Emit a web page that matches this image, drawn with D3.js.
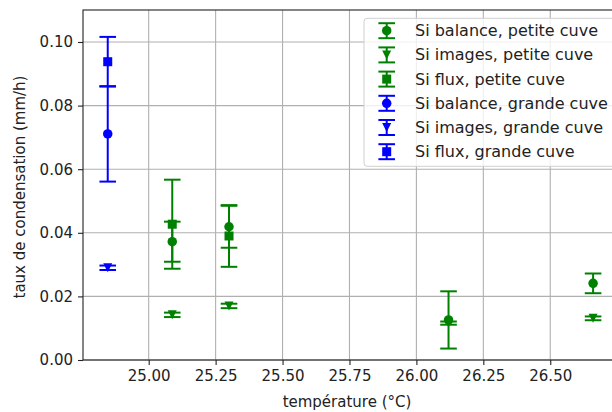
<!DOCTYPE html>
<html><head><meta charset="utf-8">
<script src="https://cdn.jsdelivr.net/npm/d3@7"></script>
<style>
html,body{margin:0;padding:0;background:#fff;}
svg{display:block;font-family:"DejaVu Sans",sans-serif;}
</style></head>
<body><svg id="c" width="612" height="412"></svg>
<script>
// ---- data ----
const xTicks = [25.00, 25.25, 25.50, 25.75, 26.00, 26.25, 26.50];
const yTicks = [0.00, 0.02, 0.04, 0.06, 0.08, 0.10];
const tempPetite = [25.088, 25.30, 26.12, 26.66];
const tempPetiteFlux = [25.088, 25.30];
const tempGrande = [24.847];

const balancePetite = [0.0372, 0.0419, 0.0126, 0.0241];
const balancePetiteErr = [0.0063, 0.0066, 0.0090, 0.0031];
const imagesPetite = [0.0142, 0.0170, 0.0116, 0.0131];
const imagesPetiteErr = [0.0007, 0.0007, 0.0005, 0.0006];
const fluxPetite = [0.0427, 0.0390];
const fluxPetiteErr = [0.0140, 0.0097];

const balanceGrande = [0.0711];
const balanceGrandeErr = [0.0150];
const imagesGrande = [0.0290];
const imagesGrandeErr = [0.0007];
const fluxGrande = [0.0938];
const fluxGrandeErr = [0.0078];

const seriesNames = ["Si balance, petite cuve","Si images, petite cuve","Si flux, petite cuve",
                     "Si balance, grande cuve","Si images, grande cuve","Si flux, grande cuve"];

const series = [
  {name:seriesNames[0], x:tempPetite, y:balancePetite, e:balancePetiteErr, color:"green", m:"o"},
  {name:seriesNames[1], x:tempPetite, y:imagesPetite, e:imagesPetiteErr, color:"green", m:"v"},
  {name:seriesNames[2], x:tempPetiteFlux, y:fluxPetite, e:fluxPetiteErr, color:"green", m:"s"},
  {name:seriesNames[3], x:tempGrande, y:balanceGrande, e:balanceGrandeErr, color:"blue", m:"o"},
  {name:seriesNames[4], x:tempGrande, y:imagesGrande, e:imagesGrandeErr, color:"blue", m:"v"},
  {name:seriesNames[5], x:tempGrande, y:fluxGrande, e:fluxGrandeErr, color:"blue", m:"s"}
];

// ---- layout ----
const L = 83, R = 622, T = 10, B = 360;
const x = d3.scaleLinear().domain([24.7546, 26.768]).range([L, R]);
const y = d3.scaleLinear().domain([0, 0.11006]).range([B, T]);
const svg = d3.select("#c");
const FS = "15px";

// grid
const grid = svg.append("g");
grid.selectAll(".gx").data(xTicks).enter().append("line")
  .attr("x1", d=>x(d)).attr("x2", d=>x(d)).attr("y1", T).attr("y2", B)
  .attr("stroke", "#b0b0b0").attr("stroke-width", 1.1);
grid.selectAll(".gy").data(yTicks).enter().append("line")
  .attr("x1", L).attr("x2", R).attr("y1", d=>y(d)).attr("y2", d=>y(d))
  .attr("stroke", "#b0b0b0").attr("stroke-width", 1.1);

// markers
function marker(g, m, cx, cy, color, s) {
  if (m === "o") {
    g.append("circle").attr("cx", cx).attr("cy", cy).attr("r", s/2).attr("fill", color);
  } else if (m === "s") {
    g.append("rect").attr("x", cx - s/2).attr("y", cy - s/2).attr("width", s).attr("height", s).attr("fill", color);
  } else {
    g.append("path").attr("d", `M${cx-s/2},${cy-s/2}L${cx+s/2},${cy-s/2}L${cx},${cy+s/2}Z`).attr("fill", color);
  }
}

const capHalf = 8.3;
const dataG = svg.append("g");
series.forEach(s => {
  const g = dataG.append("g");
  s.x.forEach((xv, i) => {
    const cx = x(xv), y1 = y(s.y[i] + s.e[i]), y0 = y(s.y[i] - s.e[i]);
    g.append("line").attr("x1", cx).attr("x2", cx).attr("y1", y1).attr("y2", y0)
      .attr("stroke", s.color).attr("stroke-width", 2);
    [y1, y0].forEach(yy => g.append("line").attr("x1", cx - capHalf).attr("x2", cx + capHalf)
      .attr("y1", yy).attr("y2", yy).attr("stroke", s.color).attr("stroke-width", 2));
    marker(g, s.m, cx, y(s.y[i]), s.color, s.m === "v" ? 9 : (s.m === "s" ? 9 : 9.5));
  });
});

// axes
const ax = svg.append("g").attr("transform", `translate(0,${B})`)
  .call(d3.axisBottom(x).tickValues(xTicks).tickFormat(d3.format(".2f")).tickSize(5).tickPadding(5));
const ay = svg.append("g").attr("transform", `translate(${L},0)`)
  .call(d3.axisLeft(y).tickValues(yTicks).tickFormat(d3.format(".2f")).tickSize(5).tickPadding(5));
[ax, ay].forEach(a => {
  a.select(".domain").remove();
  a.selectAll("line").attr("stroke", "#222").attr("stroke-width", 1.1);
  a.selectAll("text").attr("fill", "#222").style("font-size", FS).style("font-family", "DejaVu Sans");
});
// spines
svg.append("rect").attr("x", L).attr("y", T).attr("width", R - L).attr("height", B - T)
  .attr("fill", "none").attr("stroke", "#222").attr("stroke-width", 1.1);

// axis labels
svg.append("text").attr("x", 347).attr("y", 407).attr("text-anchor", "middle")
  .style("font-size", FS).attr("fill", "#222").text("température (°C)");
svg.append("text").attr("transform", `translate(25,${(T+B)/2 + 2}) rotate(-90)`).attr("text-anchor", "middle")
  .style("font-size", FS).attr("fill", "#222").text("taux de condensation (mm/h)");

// legend
const lg = svg.append("g");
lg.append("rect").attr("x", 364).attr("y", 18.3).attr("width", 256).attr("height", 148).attr("rx", 3)
  .attr("fill", "white").attr("fill-opacity", 0.8).attr("stroke", "#d0d0d0").attr("stroke-width", 1);
series.forEach((s, i) => {
  const cy = 30.7 + i * 24.2, cx = 386.7;
  lg.append("line").attr("x1", cx).attr("x2", cx).attr("y1", cy - 7.5).attr("y2", cy + 7.5)
    .attr("stroke", s.color).attr("stroke-width", 2);
  [cy - 7.5, cy + 7.5].forEach(yy => lg.append("line").attr("x1", cx - 8.3).attr("x2", cx + 8.3)
    .attr("y1", yy).attr("y2", yy).attr("stroke", s.color).attr("stroke-width", 2));
  marker(lg, s.m, cx, cy, s.color, s.m === "v" ? 9 : (s.m === "s" ? 9 : 9.5));
  lg.append("text").attr("x", 415).attr("y", cy + 5.5).style("font-size", "16px").attr("fill", "#222").text(s.name);
});
</script></body></html>
